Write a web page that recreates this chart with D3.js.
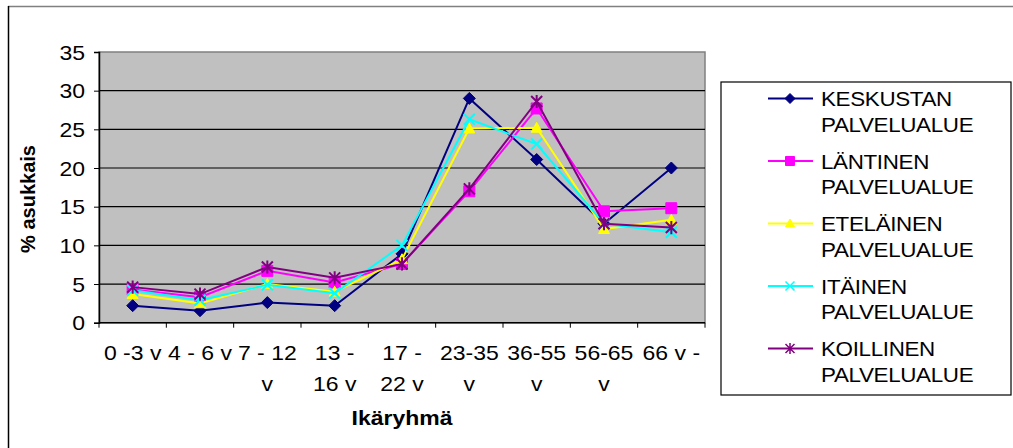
<!DOCTYPE html>
<html>
<head>
<meta charset="utf-8">
<script src="https://cdn.jsdelivr.net/npm/d3@7"></script>
<style>
  body { margin: 0; background: #fff; }
  svg { display: block; font-family: "Liberation Sans", Arial, sans-serif; }
</style>
</head>
<body>
<svg id="chart"></svg>
<script>
// age groups, one entry per line of the wrapped label
let categories = [["0 -3 v"], ["4 - 6 v"], ["7 - 12", "v"], ["13 -", "16 v"], ["17 -", "22 v"], ["23-35", "v"], ["36-55", "v"], ["56-65", "v"], ["66 v -"]]
let yTicks = [0, 5, 10, 15, 20, 25, 30, 35]

let seriesNames = ["KESKUSTAN PALVELUALUE", "LÄNTINEN PALVELUALUE", "ETELÄINEN PALVELUALUE", "ITÄINEN PALVELUALUE", "KOILLINEN PALVELUALUE"]
let keskustan = [2.2, 1.55, 2.6, 2.2, 8.9, 29.0, 21.1, 12.8, 20.0]
let lantinen = [4.3, 3.3, 6.7, 5.2, 7.6, 17.0, 27.7, 14.4, 14.8]
let etelainen = [3.7, 2.5, 5.0, 4.0, 8.2, 25.1, 25.2, 12.1, 13.3]
let itainen = [4.2, 2.9, 4.9, 3.8, 10.0, 26.3, 23.1, 12.8, 11.7]
let koillinen = [4.6, 3.7, 7.2, 5.8, 7.6, 17.3, 28.6, 12.8, 12.3]

let colors = ["#000080", "#ff00ff", "#ffff00", "#00ffff", "#800080"]
let shapes = ["diamond", "square", "triangle", "x", "star"]

let series = [keskustan, lantinen, etelainen, itainen, koillinen].map((values, i) => ({
  name: seriesNames[i], values: values, color: colors[i], shape: shapes[i]
}))

let width = 1013
let height = 448
let plot = { left: 99, right: 705, top: 52, bottom: 322.7 }
// the original text is a bit wider than Arial
let stretch = 1.15

let svg = d3.select('#chart').attr('width', width).attr('height', height)

let xScale = d3.scaleBand()
  .domain(d3.range(categories.length))
  .range([plot.left, plot.right])

let yScale = d3.scaleLinear()
  .domain([0, 35])
  .range([plot.bottom, plot.top])

let cx = (i) => xScale(i) + xScale.bandwidth() / 2

// marker paths, r = half size
let markerPath = (shape, r) => {
  if (shape === 'diamond') return `M0,${-r}L${r},0L0,${r}L${-r},0Z`
  if (shape === 'square') return `M${-r},${-r}H${r}V${r}H${-r}Z`
  if (shape === 'triangle') return `M0,${-r}L${r},${r * 0.8}L${-r},${r * 0.8}Z`
  if (shape === 'x') return `M${-r},${-r}L${r},${r}M${r},${-r}L${-r},${r}`
  return `M${-r},${-r}L${r},${r}M${r},${-r}L${-r},${r}M0,${-r * 1.2}V${r * 1.2}`
}
let isStroke = (shape) => shape === 'x' || shape === 'star'

// outer frame
svg.append('line').attr('x1', 8).attr('x2', width).attr('y1', 6.5).attr('y2', 6.5)
  .attr('stroke', '#808080').attr('stroke-width', 1.5)
svg.append('line').attr('x1', 8.5).attr('x2', 8.5).attr('y1', 6).attr('y2', height)
  .attr('stroke', '#000').attr('stroke-width', 1.5)

// plot area
svg.append('rect')
  .attr('x', plot.left).attr('y', plot.top)
  .attr('width', plot.right - plot.left).attr('height', plot.bottom - plot.top)
  .attr('fill', '#c0c0c0').attr('stroke', '#808080').attr('stroke-width', 1.5)

svg.append('g').selectAll('line')
  .data(yTicks.slice(1, -1))
  .enter()
  .append('line')
  .attr('x1', plot.left).attr('x2', plot.right)
  .attr('y1', (d) => yScale(d)).attr('y2', (d) => yScale(d))
  .attr('stroke', '#000').attr('stroke-width', 1.2)

// y axis
let yAxis = d3.axisLeft(yScale).tickValues(yTicks).tickSize(5).tickPadding(8)
let yG = svg.append('g')
  .attr('transform', 'translate(' + plot.left + ', 0)')
  .call(yAxis)
yG.select('.domain').attr('stroke', '#000').attr('stroke-width', 1.5)
yG.selectAll('.tick line').attr('stroke', '#000')
yG.selectAll('.tick text')
  .attr('font-size', 20).attr('fill', '#000')
  .attr('font-family', '"Liberation Sans", Arial, sans-serif')
  .attr('x', 0)
  .attr('dy', '0.35em')
  .attr('transform', 'translate(-14,0) scale(' + stretch + ',1)')

// x axis: ticks at the category borders
svg.append('line')
  .attr('x1', plot.left).attr('x2', plot.right)
  .attr('y1', plot.bottom).attr('y2', plot.bottom)
  .attr('stroke', '#000').attr('stroke-width', 1.5)
svg.append('g').selectAll('line')
  .data(d3.range(categories.length + 1))
  .enter()
  .append('line')
  .attr('x1', (i) => i < categories.length ? xScale(i) : plot.right)
  .attr('x2', (i) => i < categories.length ? xScale(i) : plot.right)
  .attr('y1', plot.bottom).attr('y2', plot.bottom + 5)
  .attr('stroke', '#000')

let xLabels = svg.append('g').selectAll('text')
  .data(categories)
  .enter()
  .append('text')
  .attr('text-anchor', 'middle')
  .attr('font-size', 20)
  .attr('transform', (d, i) => 'translate(' + cx(i) + ',360) scale(' + stretch + ',1)')
xLabels.selectAll('tspan')
  .data((d) => d)
  .enter()
  .append('tspan')
  .attr('x', 0)
  .attr('dy', (d, j) => j === 0 ? 0 : 31)
  .text((d) => d)

// axis titles
svg.append('text')
  .attr('text-anchor', 'middle')
  .attr('font-size', 20).attr('font-weight', 'bold')
  .attr('transform', 'translate(' + (plot.left + plot.right) / 2 + ',425) scale(' + stretch + ',1)')
  .text('Ikäryhmä')

svg.append('text')
  .attr('text-anchor', 'middle')
  .attr('font-size', 20).attr('font-weight', 'bold')
  .attr('transform', 'translate(35, 199) rotate(-90)')
  .text('% asukkais')

// lines and markers
let line = d3.line()
  .x((d, i) => cx(i))
  .y((d) => yScale(d))

let seriesG = svg.append('g').selectAll('g')
  .data(series)
  .enter()
  .append('g')

seriesG.append('path')
  .attr('d', (s) => line(s.values))
  .attr('fill', 'none')
  .attr('stroke', (s) => s.color)
  .attr('stroke-width', 2)

seriesG.selectAll('.marker')
  .data((s) => s.values.map((v, i) => ({ v: v, i: i, s: s })))
  .enter()
  .append('path')
  .attr('class', 'marker')
  .attr('transform', (d) => 'translate(' + cx(d.i) + ',' + yScale(d.v) + ')')
  .attr('d', (d) => markerPath(d.s.shape, d.s.shape === 'diamond' ? 6 : 5.5))
  .attr('fill', (d) => isStroke(d.s.shape) ? 'none' : d.s.color)
  .attr('stroke', (d) => d.s.color)
  .attr('stroke-width', (d) => isStroke(d.s.shape) ? 2 : 1)

// legend
let legend = svg.append('g')
legend.append('rect')
  .attr('x', 721).attr('y', 82)
  .attr('width', 290).attr('height', 313)
  .attr('fill', '#fff').attr('stroke', '#000').attr('stroke-width', 1.2)

let legendItems = legend.selectAll('.item')
  .data(series)
  .enter()
  .append('g')
  .attr('class', 'item')
  .attr('transform', (s, i) => 'translate(0,' + (98.5 + i * 62.5) + ')')

legendItems.append('line')
  .attr('x1', 768).attr('x2', 813).attr('y1', 0).attr('y2', 0)
  .attr('stroke', (s) => s.color).attr('stroke-width', 2)
legendItems.append('path')
  .attr('transform', 'translate(790,0)')
  .attr('d', (s) => markerPath(s.shape, s.shape === 'diamond' ? 5 : 4.5))
  .attr('fill', (s) => isStroke(s.shape) ? 'none' : s.color)
  .attr('stroke', (s) => s.color)
  .attr('stroke-width', (s) => isStroke(s.shape) ? 1.5 : 1)

let legendText = legendItems.append('text')
  .attr('font-size', 20)
  .attr('letter-spacing', -0.3)
  .attr('transform', 'translate(821,7.5) scale(1.12,1)')
legendText.selectAll('tspan')
  .data((s) => s.name.split(' '))
  .enter()
  .append('tspan')
  .attr('x', 0)
  .attr('dy', (d, j) => j === 0 ? 0 : 26)
  .text((d) => d)
</script>
</body>
</html>
